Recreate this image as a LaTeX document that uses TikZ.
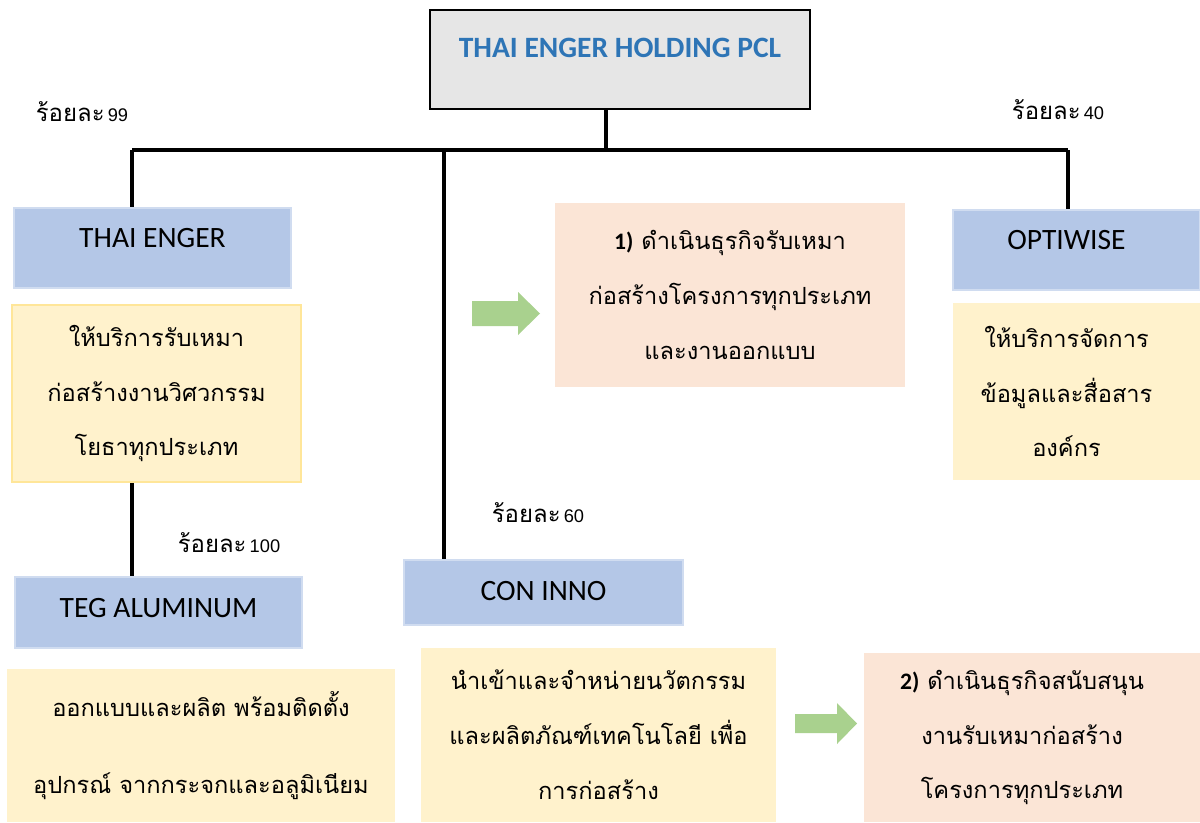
\documentclass[tikz,border=0pt]{standalone}
\usepackage{fontspec}
\setmainfont{Carlito}
\newfontfamily\thaifont[Script=Thai]{Loma}
\newfontfamily\numfont{Liberation Sans}
\definecolor{holdgray}{HTML}{E6E6E6}
\definecolor{titleblue}{HTML}{2E75B6}
\definecolor{coblue}{HTML}{B4C7E7}
\definecolor{coedge}{HTML}{D0DCF0}
\definecolor{infoyellow}{HTML}{FFF2CC}
\definecolor{infoedge}{HTML}{FFE699}
\definecolor{bizpink}{HTML}{FBE5D6}
\definecolor{arrowgreen}{HTML}{A9D18E}
\newcommand{\pct}[1]{{\thaifont\fontsize{17}{19}\selectfont ร้อยละ} {\numfont\fontsize{13}{15}\selectfont #1}}
\newcommand{\sh}{\hspace*{-0.5cm}}

\begin{document}
\begin{tikzpicture}[x=0.025cm, y=-0.025cm,
		conn/.style={line width=2.6pt},
		cobox/.style={fill=coblue, draw=coedge, line width=0.8pt, inner sep=0pt,
			font=\fontsize{21}{25}\selectfont, text depth=0.5cm},
		infobox/.style={fill=infoyellow, inner sep=0pt, align=center,
			font=\thaifont\fontsize{16.8}{39}\selectfont},
		bizbox/.style={fill=bizpink, inner sep=0pt, align=center,
			font=\thaifont\fontsize{16.8}{39}\selectfont}]
		%%%%% START %%%%%
		\useasboundingbox (0,0) rectangle (1200,822);
		
		% holding
		\node[fill=holdgray, draw=black, line width=2pt, minimum width=9.5cm, minimum height=2.475cm,
			text depth=0.575cm, font=\fontsize{21}{25}\selectfont\bfseries, text=titleblue]
			(hold) at (620,59.5) {THAI ENGER HOLDING PCL};
		
		\coordinate (busL) at (132,150);
		\coordinate (busM) at (606,150);
		\coordinate (busC) at (444,150);
		\coordinate (busR) at (1068,150);
		
		% companies
		\node[cobox, minimum width=6.925cm, minimum height=2cm] (teng) at (152.5,248) {THAI ENGER};
		\node[cobox, minimum width=7.175cm, minimum height=1.775cm, text depth=0.25cm] (teg) at (158.5,612.5) {TEG ALUMINUM};
		\node[cobox, minimum width=6.975cm, minimum height=1.625cm, text depth=0.1cm] (conin) at (543.5,592.5) {CON INNO};
		\node[cobox, minimum width=6.175cm, minimum height=2cm, line width=2pt] (opti) at (1076.5,250) {\sh OPTIWISE};
		
		% descriptions
		\node[infobox, draw=infoedge, line width=1.5pt, minimum width=7.225cm, minimum height=4.425cm] (ythai) at (156.5,393.5)
			{ให้บริการรับเหมา\\ก่อสร้างงานวิศวกรรม\\โยธาทุกประเภท};
		\node[infobox, minimum width=9.7cm, minimum height=3.825cm, font=\thaifont\fontsize{16.8}{55}\selectfont] (yteg) at (201,745.5)
			{ออกแบบและผลิต พร้อมติดตั้ง\\อุปกรณ์ จากกระจกและอลูมิเนียม};
		\node[infobox, minimum width=8.875cm, minimum height=4.35cm] (ycon) at (598.5,735)
			{นำเข้าและจำหน่ายนวัตกรรม\\และผลิตภัณฑ์เทคโนโลยี เพื่อ\\การก่อสร้าง};
		\node[infobox, minimum width=6.175cm, minimum height=4.425cm] (yopti) at (1076.5,391.5)
			{\sh ให้บริการจัดการ\\\sh ข้อมูลและสื่อสาร\\\sh องค์กร};
		\node[bizbox, minimum width=8.75cm, minimum height=4.6cm] (biz1) at (730,295)
			{{\rmfamily\bfseries 1)} ดำเนินธุรกิจรับเหมา\\ก่อสร้างโครงการทุกประเภท\\และงานออกแบบ};
		\node[bizbox, minimum width=8.4cm, minimum height=4.225cm] (biz2) at (1032,737.5)
			{\sh {\rmfamily\bfseries 2)} ดำเนินธุรกิจสนับสนุน\\\sh งานรับเหมาก่อสร้าง\\\sh โครงการทุกประเภท};
		
		% shares
		\node (p99) at (82,112) {\pct{99}};
		\node (p40) at (1058,110) {\pct{40}};
		\node (p100) at (229,543) {\pct{100}};
		\node (p60) at (538,513) {\pct{60}};
		
		% lines
		\draw[conn] (busM |- hold.south) -- (busM);
		\draw[conn] (busL) -- (busR);
		\draw[conn] (busL) -- (busL |- teng.north);
		\draw[conn] (busC) -- (busC |- conin.north);
		\draw[conn] (busR) -- (busR |- opti.north);
		\draw[conn] (ythai.south -| busL) -- (teg.north -| busL);
		
		% green arrows
		\fill[arrowgreen] (472,301) -- (518,301) -- (518,292) -- (540,313.5) -- (518,335) -- (518,326) -- (472,326) -- cycle;
		\fill[arrowgreen] (795,714) -- (837,714) -- (837,703) -- (857,723.5) -- (837,744) -- (837,733) -- (795,733) -- cycle;
		%%%%% END %%%%%
	\end{tikzpicture}
\end{document}
